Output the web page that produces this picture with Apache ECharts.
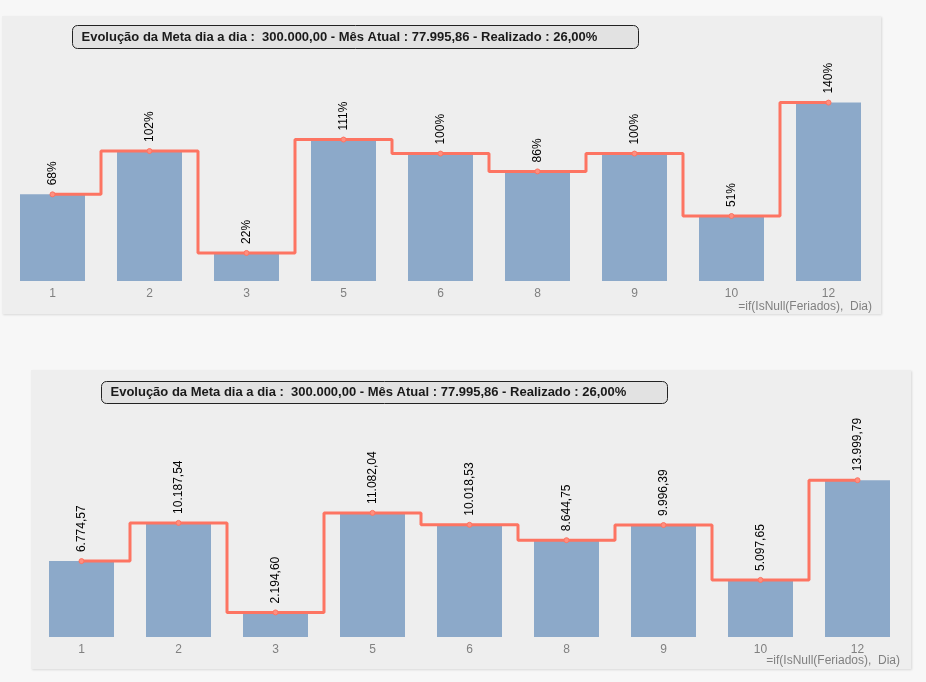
<!DOCTYPE html>
<html>
<head>
<meta charset="utf-8">
<script src="https://cdn.jsdelivr.net/npm/echarts@6/dist/echarts.min.js"></script>
<style>
  html, body { margin: 0; padding: 0; background: #f7f7f7; }
  #main { width: 926px; height: 682px; }
</style>
</head>
<body>
<div id="main"></div>
<script>
// dias úteis (sem feriados)
const dias = ['1', '2', '3', '5', '6', '8', '9', '10', '12'];
// realizado por dia (valor)
const realizado = [6774.57, 10187.54, 2194.60, 11082.04, 10018.53, 8644.75, 9996.39, 5097.65, 13999.79];
// realizado por dia em % da meta diária
const percentual = [68, 102, 22, 111, 100, 86, 100, 51, 140];
const tituloTexto = 'Evolução da Meta dia a dia :  300.000,00 - Mês Atual : 77.995,86 - Realizado : 26,00%';
const eixoTexto = '=if(IsNull(Feriados),  Dia)';

const corBarra = '#8ca9c9';
const corLinha = '#fd7462';
const fonte = 'Arial, "Liberation Sans", sans-serif';

function fmtBR(v) {
  const s = v.toFixed(2).split('.');
  return s[0].replace(/\B(?=(\d{3})+(?!\d))/g, '.') + ',' + s[1];
}

var chartDom = document.getElementById('main');
var myChart = echarts.init(chartDom);

function eixoX(idx) {
  return {
    type: 'category',
    gridIndex: idx,
    data: dias,
    axisLine: { show: false },
    axisTick: { show: false },
    axisLabel: { color: '#808080', fontSize: 12, fontFamily: fonte, margin: 7 }
  };
}
function eixoY(idx, max) {
  return {
    type: 'value',
    gridIndex: idx,
    min: 0,
    max: max,
    show: false,
    splitLine: { show: false }
  };
}
function barra(idx, data) {
  return {
    type: 'bar',
    xAxisIndex: idx,
    yAxisIndex: idx,
    data: data,
    barWidth: 65,
    itemStyle: { color: corBarra },
    silent: true
  };
}
function linha(idx, data, fmt) {
  return {
    type: 'line',
    xAxisIndex: idx,
    yAxisIndex: idx,
    data: data,
    step: 'middle',
    symbol: 'circle',
    symbolSize: 5,
    z: 5,
    lineStyle: { color: corLinha, width: 3 },
    itemStyle: { color: '#ff8f80', borderColor: corLinha, borderWidth: 1 },
    label: {
      show: true,
      position: 'top',
      distance: 6,
      rotate: 90,
      align: 'left',
      verticalAlign: 'middle',
      color: '#000',
      fontSize: 12,
      fontFamily: fonte,
      formatter: function (p) { return fmt(p.value); }
    }
  };
}
function painel(x, y, w, h) {
  return {
    type: 'rect', z: -10,
    shape: { x: x, y: y, width: w, height: h },
    style: { fill: '#eeeeee', shadowBlur: 2, shadowColor: 'rgba(0,0,0,0.12)', shadowOffsetX: 1, shadowOffsetY: 1 }
  };
}
function caixaTitulo(x, y, w, h) {
  return [{
    type: 'rect', z: 50,
    shape: { x: x, y: y, width: w, height: h, r: 5 },
    style: { fill: '#e2e2e2', stroke: '#222', lineWidth: 1 }
  }, {
    type: 'text', z: 51,
    x: x + 9, y: y + h / 2,
    style: { text: tituloTexto, fill: '#1a1a1a', font: 'bold 13px ' + fonte, verticalAlign: 'middle', align: 'left' }
  }];
}
function nomeEixo(xRight, yMid) {
  return {
    type: 'text', z: 50,
    x: xRight, y: yMid,
    style: { text: eixoTexto, fill: '#808080', font: '12px ' + fonte, align: 'right', verticalAlign: 'middle' }
  };
}

var option = {
  backgroundColor: '#f7f7f7',
  animation: false,
  grid: [
    { left: 4, right: 49, top: 58, bottom: 401 },
    { left: 33, right: 20, top: 413, bottom: 45 }
  ],
  xAxis: [eixoX(0), eixoX(1)],
  yAxis: [eixoY(0, 175), eixoY(1, 20000)],
  series: [
    barra(0, percentual),
    linha(0, percentual, function (v) { return v + '%'; }),
    barra(1, realizado),
    linha(1, realizado, fmtBR)
  ],
  graphic: [
    painel(2, 16, 879, 298),
    painel(31, 370, 880, 299)
  ].concat(caixaTitulo(72.5, 25.5, 566, 23))
   .concat(caixaTitulo(101.5, 381.5, 566, 22))
   .concat([nomeEixo(872, 307), nomeEixo(900, 661)])
};

option && myChart.setOption(option);
</script>
</body>
</html>
